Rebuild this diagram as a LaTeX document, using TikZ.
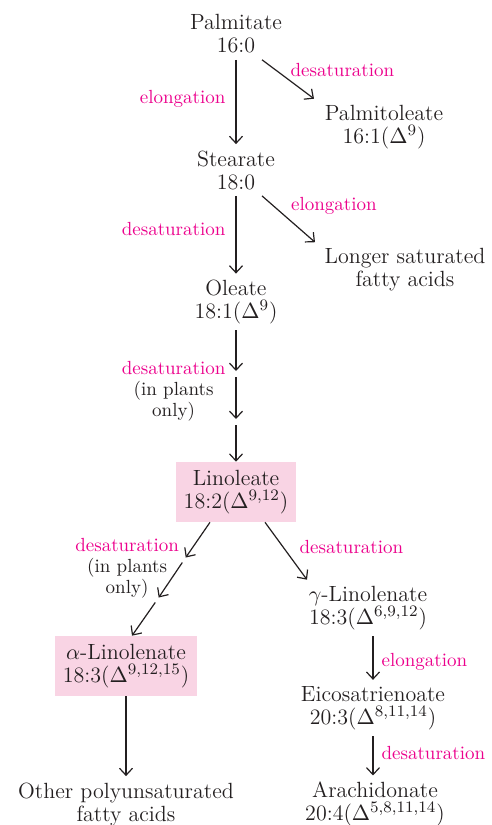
\documentclass[tikz,border=0pt]{standalone}
\usepackage{amsmath, amssymb}
\usepackage{tikz}
\usetikzlibrary{arrows.meta}
\usepackage{xcolor}

\definecolor{inkgray}{RGB}{35,31,32}
\definecolor{lblmag}{RGB}{236,0,140}
\definecolor{boxpink}{RGB}{249,212,228}

\begin{document}
\begin{tikzpicture}[x=0.5pt, y=-0.5pt,
    sp/.style={align=center, inner sep=3pt, text=inkgray,
        font=\fontsize{11}{11.5}\selectfont},
    hl/.style={fill=boxpink, inner xsep=4pt, inner ysep=4pt},
    lbl/.style={align=center, inner sep=1pt, text=lblmag,
        font=\fontsize{9.5}{10.5}\selectfont},
    note/.style={align=center, inner sep=1pt, text=inkgray,
        font=\fontsize{9.5}{10.5}\selectfont},
    arr/.style={-{Straight Barb[length=3.5pt, width=6.5pt]}, line width=0.6pt, draw=inkgray}]
    \useasboundingbox (0,0) rectangle (492,825);

    % Saturated chain
    \node[sp] (palm) at (236,34) {Palmitate\\16:0};
    \node[sp] (ptol) at (384,127) {Palmitoleate\\16:1($\Delta^{9}$)};
    \node[sp] (stea) at (236,170) {Stearate\\18:0};
    \node[sp] (lsat) at (405,270) {Longer saturated\\fatty acids};
    \node[sp] (olea) at (236,302) {Oleate\\18:1($\Delta^{9}$)};

    % Linoleate and products
    \node[sp, hl] (lino) at (236,492) {Linoleate\\18:2($\Delta^{9,12}$)};
    \node[sp] (glin) at (368,608) {$\gamma$-Linolenate\\18:3($\Delta^{6,9,12}$)};
    \node[sp, hl] (alin) at (126,666) {$\alpha$-Linolenate\\18:3($\Delta^{9,12,15}$)};
    \node[sp] (eico) at (373,708) {Eicosatrienoate\\20:3($\Delta^{8,11,14}$)};
    \node[sp] (opuf) at (126,804) {Other polyunsaturated\\fatty acids};
    \node[sp] (arac) at (375,804) {Arachidonate\\20:4($\Delta^{5,8,11,14}$)};

    % Break points of the plant-only steps
    \coordinate (ob1) at (236,374);
    \coordinate (ob2) at (236,422);
    \coordinate (lb1) at (184,560);
    \coordinate (lb2) at (157,600);

    % Edges
    \draw[arr] (palm) -- (stea)
        node[lbl, midway, left=4pt, yshift=1.5pt] {elongation};
    \draw[arr] ([xshift=13pt]palm.south) -- ([xshift=-35pt]ptol.north)
        node[lbl, midway, anchor=south west, yshift=0pt] {desaturation};
    \draw[arr] (stea) -- (olea)
        node[lbl, midway, left=4pt, yshift=3pt] {desaturation};
    \draw[arr] ([xshift=13pt]stea.south) -- ([xshift=-45pt]lsat.north)
        node[lbl, midway, anchor=south west, yshift=1pt] {elongation};

    \draw[arr, shorten >=1.5pt] (olea) -- (ob1);
    \draw[arr, shorten <=1.5pt, shorten >=1.5pt] (ob1) -- (ob2)
        node[note, midway, left=4pt, yshift=3.5pt] {\textcolor{lblmag}{desaturation}\\(in plants\\only)};
    \draw[arr, shorten <=1.5pt] (ob2) -- (lino);

    \draw[arr, shorten >=1.5pt] ([xshift=-13pt]lino.south) -- (lb1);
    \draw[arr, shorten <=1.5pt, shorten >=1.5pt] (lb1) -- (lb2)
        node[note, midway, anchor=east, xshift=5.5pt, yshift=6pt] {\textcolor{lblmag}{desaturation}\\(in plants\\only)};
    \draw[arr, shorten <=1.5pt] (lb2) -- ([xshift=3pt]alin.north);

    \draw[arr] ([xshift=14.5pt]lino.south) -- ([xshift=-30.5pt]glin.north)
        node[lbl, midway, anchor=south west, xshift=5.5pt, yshift=-2.5pt] {desaturation};
    \draw[arr] (glin.south -| eico.north) -- (eico.north)
        node[lbl, midway, right=3pt, yshift=-2pt] {elongation};
    \draw[arr] (eico.south) -- (eico.south |- arac.north)
        node[lbl, midway, right=3pt, yshift=1.5pt] {desaturation};
    \draw[arr] (alin) -- (opuf);
\end{tikzpicture}
\end{document}
